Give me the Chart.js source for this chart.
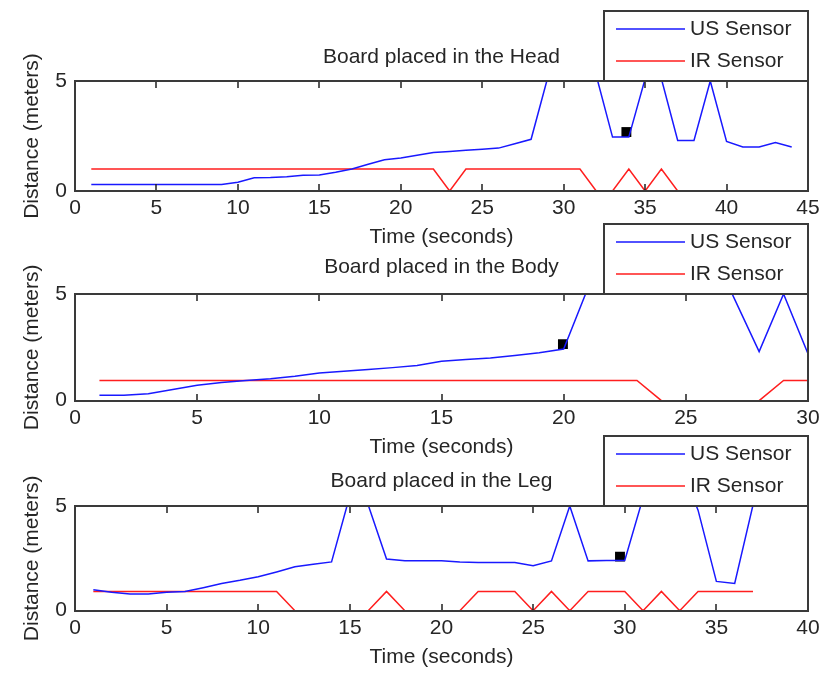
<!DOCTYPE html>
<html><head><meta charset="utf-8">
<script src="https://cdn.jsdelivr.net/npm/chart.js@4/dist/chart.umd.min.js"></script>
<style>
html,body{margin:0;padding:0;background:#fff;}
#wrap{position:relative;width:829px;height:676px;overflow:hidden;background:#fff;}
canvas{position:absolute;left:0;}
</style></head><body>
<div id="wrap">
<canvas id="c1"></canvas><canvas id="c2"></canvas><canvas id="c3"></canvas>
</div>
<script>
// ---------- data ----------
const seriesNames = ['US Sensor', 'IR Sensor'];
const chartTitles = ['Board placed in the Head', 'Board placed in the Body', 'Board placed in the Leg'];
const xAxisTitle = 'Time (seconds)';
const yAxisTitle = 'Distance (meters)';

const headUsTime = [1,2,3,4,5,6,7,8,9,10,11,12,13,14,15,16,17,18,19,20,21,22,23,24,25,26,27,28,29,30,31,32,33,34,35,36,37,38,39,40,41,42,43,44];
const headUs = [0.3,0.3,0.3,0.3,0.3,0.3,0.3,0.3,0.3,0.4,0.6,0.61,0.65,0.72,0.73,0.85,1.0,1.22,1.42,1.5,1.62,1.75,1.8,1.85,1.9,1.95,2.15,2.35,5.1,7.0,7.0,5.25,2.45,2.45,5.1,5.1,2.3,2.3,5.0,2.25,2.0,2.0,2.2,2.0];
const headIrTime = [1,2,3,4,5,6,7,8,9,10,11,12,13,14,15,16,17,18,19,20,21,22,23,24,25,26,27,28,29,30,31,32,33,34,35,36,37];
const headIr = [1,1,1,1,1,1,1,1,1,1,1,1,1,1,1,1,1,1,1,1,1,1,0,1,1,1,1,1,1,1,1,0,0,1,0,1,0];
const headMarker = [33.85, 2.68];

const bodyTime = [1,2,3,4,5,6,7,8,9,10,11,12,13,14,15,16,17,18,19,20,21,22,23,24,25,26,27,28,29,30];
const bodyUs = [0.25,0.25,0.33,0.52,0.72,0.85,0.95,1.03,1.15,1.3,1.38,1.46,1.55,1.65,1.85,1.93,2.0,2.12,2.25,2.42,5.3,7,7,7,7,7.2,4.75,2.3,5.0,2.2];
const bodyIr = [0.95,0.95,0.95,0.95,0.95,0.95,0.95,0.95,0.95,0.95,0.95,0.95,0.95,0.95,0.95,0.95,0.95,0.95,0.95,0.95,0.95,0.95,0.95,0,0,0,0,0,0.95,0.95];
const bodyMarker = [19.97, 2.65];

const legTime = [1,2,3,4,5,6,7,8,9,10,11,12,13,14,15,16,17,18,19,20,21,22,23,24,25,26,27,28,29,30,31,32,33,34,35,36,37];
const legUs = [1.0,0.88,0.8,0.8,0.88,0.92,1.1,1.3,1.45,1.62,1.85,2.1,2.22,2.33,5.5,5.05,2.47,2.38,2.38,2.38,2.33,2.3,2.3,2.3,2.15,2.38,5.0,2.38,2.4,2.4,5.4,7,7,4.8,1.4,1.3,5.05];
const legIr = [0.92,0.92,0.92,0.92,0.92,0.92,0.92,0.92,0.92,0.92,0.92,0,0,0,0,0,0.92,0,0,0,0,0.92,0.92,0.92,0,0.92,0,0.92,0.92,0.92,0,0.92,0,0.92,0.92,0.92,0.92];
const legMarker = [29.74, 2.58];

const xMaxes = [45, 30, 40];
const xStep = 5;
const yMin = 0, yMax = 5, yStep = 5;

// ---------- style ----------
const FONT = "'Liberation Sans', Arial, sans-serif";
const FS = 21;
const LH = 1.2;
const TEXT = '#262626';
const AXIS = '#3a3a3a';
const BLUE = 'rgb(25,25,255)';
const RED = 'rgb(255,30,30)';

function pts(xs, ys) { return xs.map((x, i) => ({x: x, y: ys[i]})); }

const matlabPlugin = {
  id: 'matlabBox',
  afterDatasetsDraw(chart) {
    const {ctx, chartArea, scales} = chart;
    const left = Math.round(chartArea.left), right = Math.round(chartArea.right);
    const top = Math.round(chartArea.top), bottom = Math.round(chartArea.bottom);
    const TL = 7;
    ctx.save();
    ctx.strokeStyle = '#202020';
    ctx.lineWidth = 1.5;
    ctx.beginPath();
    scales.x.ticks.forEach(t => {
      const px = Math.round(scales.x.getPixelForValue(t.value));
      ctx.moveTo(px, bottom); ctx.lineTo(px, bottom - TL);
      ctx.moveTo(px, top); ctx.lineTo(px, top + TL);
    });
    scales.y.ticks.forEach(t => {
      const py = Math.round(scales.y.getPixelForValue(t.value));
      ctx.moveTo(left, py); ctx.lineTo(left + TL, py);
      ctx.moveTo(right, py); ctx.lineTo(right - TL, py);
    });
    ctx.stroke();
    ctx.strokeStyle = AXIS;
    ctx.lineWidth = 2;
    ctx.strokeRect(left, top, right - left, bottom - top);
    ctx.restore();
  },
  afterDraw(chart) {
    const {ctx, chartArea} = chart;
    const bx = 604, by = Math.round(chartArea.top - 70);
    const bw = Math.round(chartArea.right) - bx, bh = Math.round(chartArea.top) - by;
    ctx.save();
    ctx.fillStyle = '#fff';
    ctx.fillRect(bx, by, bw, bh);
    ctx.strokeStyle = AXIS;
    ctx.lineWidth = 2;
    ctx.strokeRect(bx, by, bw, bh);
    const items = chart.data.datasets.filter(d => d.label);
    ctx.font = FS + 'px ' + FONT;
    ctx.textBaseline = 'middle';
    ctx.textAlign = 'left';
    items.forEach((d, i) => {
      const yy = by + 18 + i * 32;
      ctx.strokeStyle = d.borderColor;
      ctx.lineWidth = d.borderWidth;
      ctx.beginPath();
      ctx.moveTo(bx + 12, yy); ctx.lineTo(bx + 81, yy);
      ctx.stroke();
      ctx.fillStyle = TEXT;
      ctx.fillText(d.label, bx + 86, yy);
    });
    ctx.restore();
  }
};

function makeChart(id, canvasTop, canvasH, plotTop, plotBottom, titleGap, title, usT, us, irT, ir, marker, xMax) {
  const cv = document.getElementById(id);
  cv.width = 829; cv.height = canvasH;
  cv.style.top = canvasTop + 'px';
  cv.style.width = '829px'; cv.style.height = canvasH + 'px';
  const lineH = FS * LH;
  const xAxisH = 59;
  const blockTop = plotTop - titleGap - lineH / 2;
  const titlePadBottom = plotTop - blockTop - lineH;
  const padTop = blockTop - canvasTop;
  const padBottom = canvasTop + canvasH - plotBottom - xAxisH;
  const font = {family: FONT, size: FS, weight: 'normal', lineHeight: LH};
  return new Chart(cv, {
    type: 'line',
    data: {
      datasets: [
        {label: seriesNames[0], data: pts(usT, us), borderColor: BLUE, borderWidth: 1.5, pointRadius: 0, tension: 0, fill: false, clip: 0},
        {label: seriesNames[1], data: pts(irT, ir), borderColor: RED, borderWidth: 1.5, pointRadius: 0, tension: 0, fill: false, clip: 0},
        {type: 'scatter', data: [{x: marker[0], y: marker[1]}], pointStyle: 'rect', pointRadius: 7, backgroundColor: '#000', borderColor: '#000', borderWidth: 0}
      ]
    },
    options: {
      responsive: false,
      animation: false,
      events: [],
      layout: {padding: {left: 0, right: 829 - 808, top: padTop, bottom: padBottom}},
      plugins: {
        legend: {display: false},
        tooltip: {enabled: false},
        title: {display: true, text: title, color: TEXT, font: font, fullSize: false, padding: {top: 0, bottom: titlePadBottom}}
      },
      scales: {
        x: {
          type: 'linear', min: 0, max: xMax,
          grid: {display: false, drawTicks: false},
          border: {display: false},
          ticks: {stepSize: xStep, color: TEXT, font: font, padding: 5, maxRotation: 0, autoSkip: false},
          title: {display: true, text: xAxisTitle, color: TEXT, font: font, padding: {top: 0, bottom: 0}},
          afterFit(s) { s.height = xAxisH; }
        },
        y: {
          type: 'linear', min: yMin, max: yMax,
          grid: {display: false, drawTicks: false},
          border: {display: false},
          ticks: {stepSize: yStep, color: TEXT, font: font, padding: 8},
          title: {display: true, text: yAxisTitle, color: TEXT, font: font, padding: {top: 19.4, bottom: 0}},
          afterFit(s) { s.width = 75; }
        }
      }
    },
    plugins: [matlabPlugin]
  });
}

makeChart('c1', 0, 262, 81, 191, 23.5, chartTitles[0], headUsTime, headUs, headIrTime, headIr, headMarker, xMaxes[0]);
makeChart('c2', 210, 262, 294, 400.7, 26.5, chartTitles[1], bodyTime, bodyUs, bodyTime, bodyIr, bodyMarker, xMaxes[1]);
makeChart('c3', 420, 256, 506, 610.7, 25, chartTitles[2], legTime, legUs, legTime, legIr, legMarker, xMaxes[2]);
</script>
</body></html>
